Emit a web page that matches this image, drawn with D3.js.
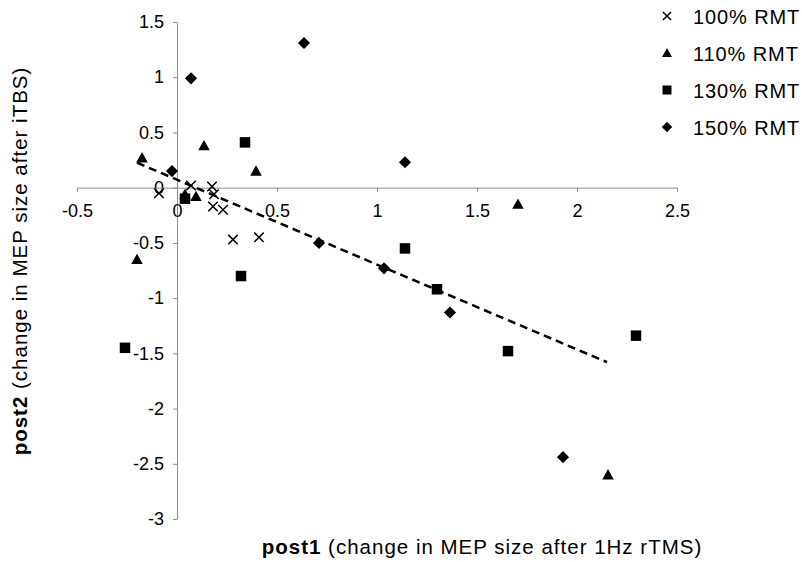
<!DOCTYPE html>
<html>
<head>
<meta charset="utf-8">
<script src="https://d3js.org/d3.v7.min.js"></script>
<style>
  body { margin: 0; background: #fff; }
  text { font-family: "Liberation Sans", Arial, sans-serif; }
</style>
</head>
<body>
<svg id="chart" width="802" height="562"></svg>
<script>
// series values: [post1, post2]
const rmt100 = [[-0.09, -0.05], [0.07, 0.02], [0.175, 0.01], [0.185, -0.06], [0.18, -0.17], [0.23, -0.2], [0.28, -0.47], [0.41, -0.45]];
const rmt110 = [[-0.175, 0.27], [0.135, 0.38], [0.395, 0.15], [-0.2, -0.65], [0.04, -0.06], [0.095, -0.08], [1.705, -0.15], [2.155, -2.6]];
const rmt130 = [[0.34, 0.41], [0.32, -0.8], [0.04, -0.1], [-0.26, -1.45], [1.14, -0.55], [1.3, -0.92], [1.655, -1.48], [2.295, -1.34]];
const rmt150 = [[-0.025, 0.15], [0.71, -0.5], [0.07, 0.99], [0.635, 1.31], [1.14, 0.23], [1.035, -0.73], [1.365, -1.13], [1.93, -2.44]];
const trend = [[-0.2, 0.226], [2.15, -1.58]];

const seriesNames = ["100% RMT", "110% RMT", "130% RMT", "150% RMT"];
const seriesData = [rmt100, rmt110, rmt130, rmt150];
const seriesShapes = ["cross", "triangle", "square", "diamond"];

const xTicks = [-0.5, 0, 0.5, 1, 1.5, 2, 2.5];
const yTicks = [-3, -2.5, -2, -1.5, -1, -0.5, 0, 0.5, 1, 1.5];

const svg = d3.select("#chart");

const x = d3.scaleLinear().domain([-0.5, 2.5]).range([77, 677]);
const y = d3.scaleLinear().domain([-3, 1.5]).range([519, 22]);

// axes
const yAxis = svg.append("g")
  .attr("transform", `translate(${x(0)},0)`)
  .call(d3.axisLeft(y).tickValues(yTicks).tickSize(4).tickSizeOuter(0).tickPadding(9).tickFormat(d => String(d)));
const xAxis = svg.append("g")
  .attr("transform", `translate(0,${y(0)})`)
  .call(d3.axisBottom(x).tickValues(xTicks).tickSize(4).tickSizeOuter(0).tickPadding(13).tickFormat(d => String(d)));

[xAxis, yAxis].forEach(a => {
  a.selectAll("path, line").attr("stroke", "#8c8c8c").attr("stroke-width", 1);
  a.selectAll("text").attr("font-size", 18).attr("fill", "#000")
    .style("font-family", "'Liberation Sans', Arial, sans-serif");
});

// trend line
svg.append("line")
  .attr("x1", x(trend[0][0])).attr("y1", y(trend[0][1]))
  .attr("x2", x(trend[1][0])).attr("y2", y(trend[1][1]))
  .attr("stroke", "#000")
  .attr("stroke-width", 2.5)
  .attr("stroke-dasharray", "8,5");

function drawMarker(g, shape, cx, cy, s) {
  if (shape === "cross") {
    const h = s * 0.45;
    g.append("path")
      .attr("d", `M${cx - h},${cy - h}L${cx + h},${cy + h}M${cx - h},${cy + h}L${cx + h},${cy - h}`)
      .attr("stroke", "#000").attr("stroke-width", 1.5).attr("fill", "none");
  } else if (shape === "triangle") {
    const h = s * 0.55;
    g.append("path")
      .attr("d", `M${cx},${cy - h}L${cx + h},${cy + h * 0.8}L${cx - h},${cy + h * 0.8}Z`)
      .attr("fill", "#000");
  } else if (shape === "square") {
    const h = s * 0.5;
    g.append("rect")
      .attr("x", cx - h).attr("y", cy - h).attr("width", 2 * h).attr("height", 2 * h)
      .attr("fill", "#000");
  } else {
    const h = s * 0.58;
    g.append("path")
      .attr("d", `M${cx},${cy - h}L${cx + h},${cy}L${cx},${cy + h}L${cx - h},${cy}Z`)
      .attr("fill", "#000");
  }
}

const pts = svg.append("g");
seriesData.forEach((data, i) => {
  data.forEach(d => drawMarker(pts, seriesShapes[i], x(d[0]), y(d[1]), 10.5));
});

// legend
const legend = svg.append("g");
seriesNames.forEach((name, i) => {
  const ly = 17 + i * 37;
  drawMarker(legend, seriesShapes[i], 667, ly - 1, 9);
  legend.append("text")
    .attr("x", 693).attr("y", ly + 7)
    .attr("font-size", 20)
    .attr("letter-spacing", 0.9)
    .text(name);
});

// axis titles
const xt = svg.append("text")
  .attr("x", 482).attr("y", 554)
  .attr("text-anchor", "middle")
  .attr("font-size", 20.5)
  .attr("letter-spacing", 1);
xt.append("tspan").attr("font-weight", "bold").text("post1");
xt.append("tspan").text(" (change in MEP size after 1Hz rTMS)");

const yt = svg.append("text")
  .attr("transform", "translate(27,261) rotate(-90)")
  .attr("text-anchor", "middle")
  .attr("font-size", 20.5)
  .attr("letter-spacing", 1);
yt.append("tspan").attr("font-weight", "bold").text("post2");
yt.append("tspan").text(" (change in MEP size after iTBS)");
</script>
</body>
</html>
